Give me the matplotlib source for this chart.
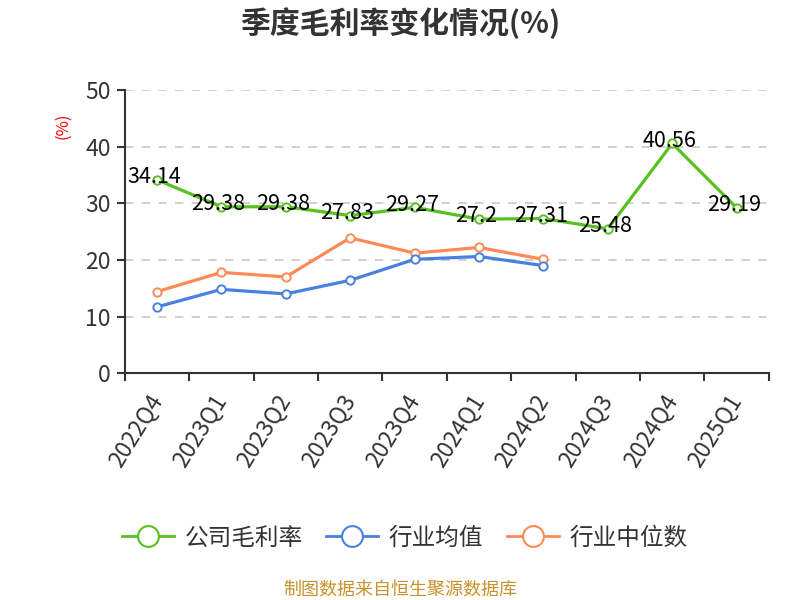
"""
季度毛利率变化情况 chart
"""
import numpy as np
import matplotlib
matplotlib.use('Agg')
import matplotlib.pyplot as plt
from matplotlib.lines import Line2D

plt.rcParams['font.family'] = ['Noto Sans CJK SC', 'DejaVu Sans']

################################################################################
# Data
################################################################################
QUARTERS        = ['2022Q4', '2023Q1', '2023Q2', '2023Q3', '2023Q4',
                   '2024Q1', '2024Q2', '2024Q3', '2024Q4', '2025Q1']
COMPANY_MARGIN  = [34.14, 29.38, 29.38, 27.83, 29.27, 27.2, 27.31, 25.48, 40.56, 29.19]
INDUSTRY_MEAN   = [11.7, 14.8, 14.0, 16.4, 20.1, 20.6, 19.0]
INDUSTRY_MEDIAN = [14.4, 17.8, 17.0, 23.9, 21.2, 22.2, 20.1]
SERIES_NAMES    = ['公司毛利率', '行业均值', '行业中位数']

GREEN   = '#56c11f'
BLUE    = '#4a80e0'
ORANGE  = '#ff8a57'
TXT     = '#333333'

################################################################################
# Figure
################################################################################
fig = plt.figure(figsize = (8, 6), dpi = 100)
ax  = fig.add_axes([0.156, 0.378, 0.805, 0.472])

x = np.arange(len(QUARTERS))

def draw(vals, color):
    xx = x[:len(vals)]
    ax.plot(xx, vals, color = color, lw = 2.3, zorder = 3,
            marker = 'o', ms = 6, mfc = 'white', mec = color, mew = 1.4)

draw(INDUSTRY_MEDIAN, ORANGE)
draw(INDUSTRY_MEAN, BLUE)
draw(COMPANY_MARGIN, GREEN)

for xi, v in zip(x, COMPANY_MARGIN):
    ax.annotate(f'{v:g}', (xi, v), xytext = (-2, 2), textcoords = 'offset points',
                ha = 'center', va = 'center', fontsize = 15.5, color = 'black',
                zorder = 5)

########################################
# Axes styling
########################################
ax.set_xlim(-0.5, len(QUARTERS) - 0.5)
ax.set_ylim(0, 50)
ax.set_yticks([0, 10, 20, 30, 40, 50])
ax.set_xticks(np.arange(-0.5, len(QUARTERS), 1.0), minor = False)
ax.set_xticklabels([])
ax.set_xticks(x, minor = True)
ax.set_xticklabels(QUARTERS, minor = True, rotation = 58, ha = 'right', va = 'center',
                   rotation_mode = 'anchor', fontsize = 16.5, color = TXT)
ax.tick_params(axis = 'x', which = 'minor', length = 0, pad = 17)
ax.tick_params(axis = 'x', which = 'major', length = 6, width = 1.5, color = TXT)
ax.tick_params(axis = 'y', length = 6, width = 1.5, color = TXT,
               labelsize = 16.5, labelcolor = TXT, pad = 4)

for sp in ['top', 'right']:
    ax.spines[sp].set_visible(False)
for sp in ['left', 'bottom']:
    ax.spines[sp].set_color(TXT)
    ax.spines[sp].set_linewidth(1.5)

ax.yaxis.grid(True, linestyle = (0, (5, 5)), color = '#c8c8c8', lw = 1.2)
ax.set_axisbelow(True)

########################################
# Texts
########################################
fig.text(0.5, 0.962, '季度毛利率变化情况(%)', ha = 'center', va = 'center',
         fontsize = 21.5, fontweight = 'bold', color = TXT)
fig.text(0.078, 0.79, '(%)', ha = 'center', va = 'center', rotation = 90,
         fontsize = 12, color = 'red')

handles = [Line2D([], [], color = c, lw = 2, marker = 'o', ms = 15,
                  mfc = 'white', mec = c, mew = 1.5)
           for c in [GREEN, BLUE, ORANGE]]
fig.legend(handles, SERIES_NAMES, loc = 'center', bbox_to_anchor = (0.506, 0.103),
           ncol = 3, frameon = False, fontsize = 17, handlelength = 2.2,
           columnspacing = 1.0, handletextpad = 0.45, labelcolor = TXT)

fig.text(0.5, 0.017, '制图数据来自恒生聚源数据库', ha = 'center', va = 'center',
         fontsize = 13, color = '#c8922a')

fig.savefig('out.png', dpi = 100)
